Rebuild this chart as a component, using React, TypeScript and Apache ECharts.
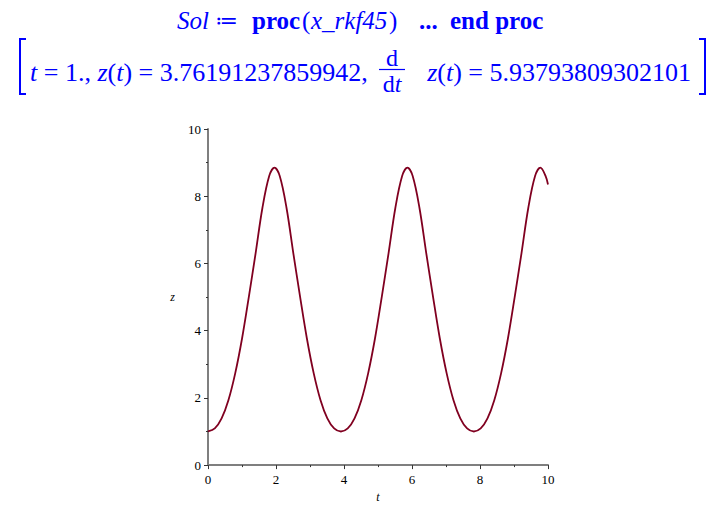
import React, { useEffect, useRef } from "react";
import * as echarts from "echarts";

const tValues = [
  0, 0.2, 0.4, 0.6, 0.8, 1.0, 1.2, 1.4, 1.6, 1.8, 1.955,
  2.11, 2.31, 2.51, 2.71, 2.91, 3.11, 3.31, 3.51, 3.71, 3.91,
  4.11, 4.31, 4.51, 4.71, 4.91, 5.11, 5.31, 5.51, 5.71, 5.865,
  6.02, 6.22, 6.42, 6.62, 6.82, 7.02, 7.22, 7.42, 7.62, 7.82,
  8.02, 8.22, 8.42, 8.62, 8.82, 9.02, 9.22, 9.42, 9.62, 9.775,
  9.93, 10.0,
];
const zValues = [
  1.0, 1.09, 1.39, 1.93, 2.73, 3.76, 5.0, 6.3, 7.65, 8.6, 8.85,
  8.6, 7.65, 6.3, 5.0, 3.76, 2.73, 1.93, 1.39, 1.09, 1.0,
  1.09, 1.39, 1.93, 2.73, 3.76, 5.0, 6.3, 7.65, 8.6, 8.85,
  8.6, 7.65, 6.3, 5.0, 3.76, 2.73, 1.93, 1.39, 1.09, 1.0,
  1.09, 1.39, 1.93, 2.73, 3.76, 5.0, 6.3, 7.65, 8.6, 8.85,
  8.6, 8.35,
];
const xTicks = [0, 2, 4, 6, 8, 10];
const yTicks = [0, 2, 4, 6, 8, 10];

// title line 1 pieces: [text, style]
const line1Pieces: [string, string][] = [
  ["Sol", "i"],
  ["≔", "s"],
  ["proc", "b"],
  ["(", "n"],
  ["x_rkf45", "i"],
  [")", "n"],
  ["...", "b"],
  ["end proc", "b"],
];
const line1X = [177, 215, 252, 302, 311, 389, 419, 450];

const line2Left = "{i|t}{n| = 1., }{i|z}{n|(}{i|t}{n|) = 3.76191237859942,}";
const line2Right = "{i|z}{n|(}{i|t}{n|) = 5.93793809302101}";

const BLUE = "#0000ff";
const SERIF = "'Liberation Serif', 'Times New Roman', serif";

export default function App() {
  const ref = useRef<HTMLDivElement>(null);
  useEffect(() => {
    if (!ref.current) return;
    const chart = echarts.init(ref.current, undefined, { renderer: "svg" });
    const data = tValues.map((t, i) => [t, zValues[i]]);
    const rich2 = {
      i: { fontStyle: "italic", fontFamily: SERIF, fontSize: 26, fill: BLUE },
      n: { fontFamily: SERIF, fontSize: 26, fill: BLUE },
    };
    const line1 = line1Pieces.map(([txt, st], k) => ({
      type: "text",
      x: line1X[k],
      y: 20,
      style: {
        text: txt,
        fontFamily: st === "s" ? "'DejaVu Serif', serif" : SERIF,
        fontSize: st === "s" ? 22 : 25,
        fontStyle: st === "i" ? "italic" : "normal",
        fontWeight: st === "b" ? "bold" : "normal",
        fill: BLUE,
        align: "left",
        verticalAlign: "middle",
      },
    }));
    chart.setOption({
      animation: false,
      backgroundColor: "#ffffff",
      grid: { left: 208, right: 169, top: 129, bottom: 37, containLabel: false },
      xAxis: {
        type: "value",
        min: 0,
        max: 10,
        interval: 2,
        name: "t",
        nameLocation: "middle",
        nameGap: 25,
        nameTextStyle: { fontFamily: SERIF, fontStyle: "italic", fontSize: 12, color: "#000" },
        axisLine: { show: true, onZero: false, lineStyle: { color: "#7f7f7f", width: 2 } },
        axisTick: { show: true, inside: false, length: 4, lineStyle: { color: "#333", width: 1 } },
        minorTick: { show: true, splitNumber: 2, length: 2, lineStyle: { color: "#333", width: 1 } },
        axisLabel: {
          fontFamily: SERIF,
          fontSize: 13,
          color: "#000",
          margin: 8,
          formatter: (v: number) => (xTicks.includes(v) ? String(v) : ""),
        },
        splitLine: { show: false },
      },
      yAxis: {
        type: "value",
        min: 0,
        max: 10,
        interval: 2,
        name: "z",
        nameLocation: "middle",
        nameGap: 33,
        nameRotate: 0,
        nameTextStyle: { fontFamily: SERIF, fontStyle: "italic", fontSize: 12, color: "#000" },
        axisLine: { show: true, onZero: false, lineStyle: { color: "#7f7f7f", width: 2 } },
        axisTick: { show: true, inside: false, length: 4, lineStyle: { color: "#333", width: 1 } },
        minorTick: { show: true, splitNumber: 2, length: 2, lineStyle: { color: "#333", width: 1 } },
        axisLabel: {
          fontFamily: SERIF,
          fontSize: 13,
          color: "#000",
          margin: 7,
          formatter: (v: number) => (yTicks.includes(v) ? String(v) : ""),
        },
        splitLine: { show: false },
      },
      series: [
        {
          type: "line",
          data,
          smooth: 0.35,
          showSymbol: false,
          lineStyle: { color: "#800020", width: 1.8 },
        },
      ],
      graphic: [
        ...line1,
        {
          type: "text",
          x: 30,
          y: 72,
          style: { text: line2Left, rich: rich2, align: "left", verticalAlign: "middle" },
        },
        {
          type: "text",
          x: 392,
          y: 58,
          style: { text: "d", fontFamily: SERIF, fontSize: 24, fill: BLUE, align: "center", verticalAlign: "middle" },
        },
        {
          type: "line",
          shape: { x1: 379, y1: 69.5, x2: 405, y2: 69.5 },
          style: { stroke: BLUE, lineWidth: 1.2 },
        },
        {
          type: "text",
          x: 392,
          y: 84,
          style: {
            text: "{n|d}{i|t}",
            rich: {
              n: { fontFamily: SERIF, fontSize: 24, fill: BLUE },
              i: { fontFamily: SERIF, fontSize: 24, fill: BLUE, fontStyle: "italic" },
            },
            align: "center",
            verticalAlign: "middle",
          },
        },
        {
          type: "text",
          x: 691,
          y: 72,
          style: { text: line2Right, rich: rich2, align: "right", verticalAlign: "middle" },
        },
        {
          type: "polyline",
          shape: { points: [[26, 39], [20, 39], [20, 94], [26, 94]] },
          style: { stroke: BLUE, lineWidth: 2, fill: null },
        },
        {
          type: "polyline",
          shape: { points: [[699, 39], [705, 39], [705, 94], [699, 94]] },
          style: { stroke: BLUE, lineWidth: 2, fill: null },
        },
      ],
    });
    return () => chart.dispose();
  }, []);
  return (
    <div
      ref={ref}
      style={{ position: "absolute", left: 0, top: 0, width: 717, height: 508, background: "#fff" }}
    />
  );
}
